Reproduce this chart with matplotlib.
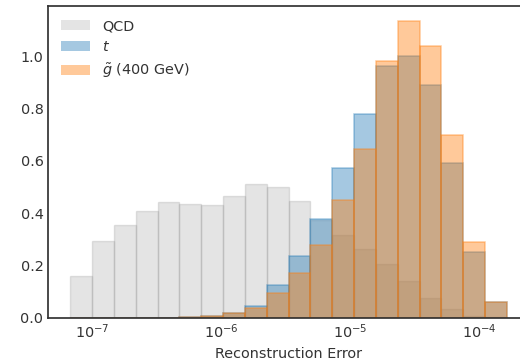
import matplotlib
matplotlib.use('Agg')
import matplotlib.pyplot as plt
import numpy as np

INK = '#333333'
plt.rcParams.update({'font.family': 'DejaVu Sans', 'font.size': 10.4,
    'axes.edgecolor': INK, 'axes.labelcolor': INK, 'text.color': INK,
    'xtick.color': INK, 'ytick.color': INK, 'axes.linewidth': 1.25,
    'xtick.major.size': 0, 'ytick.major.size': 0,
    'xtick.minor.size': 0, 'ytick.minor.size': 0})

# log-spaced bins of reconstruction error
log_lo, log_hi, n_bins = -7.17, -3.79, 20
edges = np.logspace(log_lo, log_hi, n_bins + 1)
centers = np.sqrt(edges[:-1] * edges[1:])

qcd = [0.160, 0.291, 0.355, 0.406, 0.441, 0.436, 0.432, 0.465, 0.510, 0.500,
       0.446, 0.372, 0.314, 0.263, 0.205, 0.139, 0.076, 0.032, 0.006, 0.001]
top = [0, 0, 0, 0, 0, 0.001, 0.006, 0.019, 0.045, 0.124,
       0.235, 0.378, 0.571, 0.778, 0.962, 1.000, 0.891, 0.592, 0.250, 0.059]
gluino = [0, 0, 0, 0, 0, 0.001, 0.005, 0.016, 0.036, 0.092,
          0.171, 0.278, 0.449, 0.645, 0.981, 1.135, 1.038, 0.699, 0.290, 0.060]

fig = plt.figure(figsize=(5.2, 3.6), dpi=100)
ax = fig.add_axes([0.0929, 0.118, 0.924, 0.865])

ax.hist(centers, bins=edges, weights=qcd, color='#808080', alpha=0.21,
        edgecolor='#808080', linewidth=1.0, label='QCD')
ax.hist(centers, bins=edges, weights=top, color='#1f77b4', alpha=0.4,
        edgecolor='#1f77b4', linewidth=1.1, label='$t$')
ax.hist(centers, bins=edges, weights=gluino, color='#ff7f0e', alpha=0.42,
        edgecolor='#ff7f0e', linewidth=1.1, label=r'$\tilde{g}$ (400 GeV)')

ax.set_xscale('log')
ax.set_xlabel('Reconstruction Error')
ax.set_yticks([0, 0.2, 0.4, 0.6, 0.8, 1.0])
leg = ax.legend(loc='upper left', frameon=False)
for h in leg.legend_handles:
    h.set_linewidth(0)

fig.savefig('out.png', dpi=100)
